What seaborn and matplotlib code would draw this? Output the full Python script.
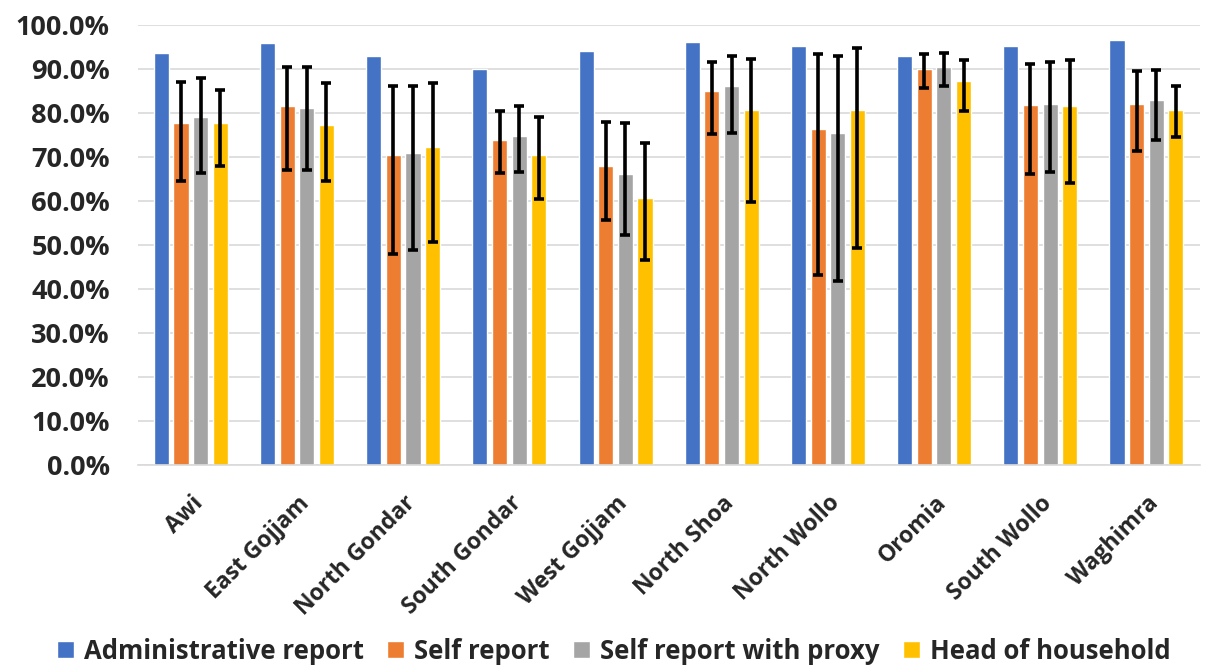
import matplotlib
matplotlib.use("Agg")
import matplotlib.pyplot as plt
import matplotlib.ticker as mticker
import numpy as np
import pandas as pd
import seaborn as sns

zones = ["Awi", "East Gojjam", "North Gondar", "South Gondar", "West Gojjam",
         "North Shoa", "North Wollo", "Oromia", "South Wollo", "Waghimra"]
methods = ["Administrative report", "Self report", "Self report with proxy", "Head of household"]

admin = [93.8, 96.0, 93.0, 90.1, 94.2, 96.1, 95.2, 93.0, 95.2, 96.7]
self_rep = [77.8, 81.6, 70.5, 73.9, 67.9, 85.0, 76.5, 90.1, 81.8, 82.1]
self_lo = [64.5, 67.1, 48.0, 66.4, 55.8, 75.2, 43.1, 85.8, 66.1, 71.5]
self_hi = [87.1, 90.5, 86.2, 80.5, 78.0, 91.6, 93.5, 93.5, 91.3, 89.5]
proxy = [79.1, 81.3, 71.0, 74.8, 66.1, 86.2, 75.5, 90.5, 82.2, 83.1]
proxy_lo = [66.4, 67.1, 48.8, 66.7, 52.3, 75.5, 41.9, 86.3, 66.7, 73.8]
proxy_hi = [88.0, 90.5, 86.2, 81.6, 77.8, 93.0, 93.0, 93.6, 91.6, 89.8]
head = [77.7, 77.3, 72.3, 70.5, 60.6, 80.8, 80.7, 87.3, 81.7, 80.8]
head_lo = [68.0, 64.5, 50.8, 60.5, 46.5, 59.7, 49.3, 80.5, 64.2, 74.5]
head_hi = [85.2, 86.8, 86.8, 79.1, 73.3, 92.4, 94.8, 92.0, 92.0, 86.1]

colors = ["#4472C4", "#ED7D31", "#A5A5A5", "#FFC000"]

values = [admin, self_rep, proxy, head]
lows = [None, self_lo, proxy_lo, head_lo]
highs = [None, self_hi, proxy_hi, head_hi]

df = pd.DataFrame({
    "zone": np.tile(zones, len(methods)),
    "method": np.repeat(methods, len(zones)),
    "value": np.concatenate([np.array(v) / 100 for v in values]),
})

sns.set_style("white")
plt.rcParams["font.family"] = ["Open Sans", "DejaVu Sans"]
plt.rcParams["font.weight"] = "bold"

fig = plt.figure(figsize=(12.08, 6.66), dpi=100)
ax = fig.add_axes([0.114, 0.302, 0.879, 0.66])

sns.barplot(data=df, x="zone", y="value", hue="method", order=zones,
            hue_order=methods, palette=colors, errorbar=None, width=0.74,
            saturation=1, ax=ax, legend=True, zorder=2)

# Narrow the bars so each group shows small gaps, then add the confidence intervals
bar_w = 0.142
bar_groups = list(ax.containers)
for i, cont in enumerate(bar_groups):
    for j, patch in enumerate(cont.patches):
        cx = patch.get_x() + patch.get_width() / 2
        patch.set_x(cx - bar_w / 2)
        patch.set_width(bar_w)
        if lows[i] is not None:
            v = values[i][j] / 100
            lo = v - lows[i][j] / 100
            hi = highs[i][j] / 100 - v
            ax.errorbar(cx, v, yerr=[[lo], [hi]], fmt="none", ecolor="black",
                        elinewidth=2.6, capsize=3.3, capthick=2.6, zorder=3)

ax.set_ylim(0, 1.0)
ax.set_xlim(-0.5, len(zones) - 0.5)
ax.yaxis.set_major_locator(mticker.MultipleLocator(0.1))
ax.yaxis.set_major_formatter(mticker.FuncFormatter(lambda v, p: f"{v * 100:.1f}%"))
ax.grid(axis="y", color="#d9d9d9", linewidth=1.2, zorder=0)
ax.set_axisbelow(True)
for s in ["top", "right", "left"]:
    ax.spines[s].set_visible(False)
ax.spines["bottom"].set_color("#d9d9d9")
ax.spines["bottom"].set_linewidth(1.2)
ax.tick_params(axis="both", length=0)
ax.tick_params(axis="y", labelsize=19.5, pad=20)
ax.tick_params(axis="x", pad=19)
ax.set_xlabel("")
ax.set_ylabel("")
ax.set_xticks(range(len(zones)))
ax.set_xticklabels(zones, rotation=45, ha="right", rotation_mode="anchor",
                   fontsize=16.5, fontweight="bold")
for lab in ax.get_yticklabels():
    lab.set_fontweight("bold")

handles, labels = ax.get_legend_handles_labels()
ax.legend_.remove()
fig.legend(handles, labels, loc="center", bbox_to_anchor=(0.508, 0.022),
           ncol=4, frameon=False, handlelength=0.66,
           handleheight=0.66, handletextpad=0.4, columnspacing=0.9,
           borderaxespad=0, borderpad=0,
           prop={"weight": "bold", "size": 18.5})

fig.savefig("out.png", dpi=100)
